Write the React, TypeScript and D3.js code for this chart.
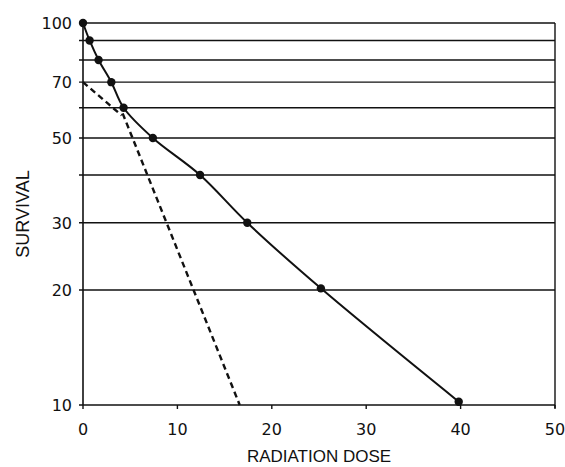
import { useEffect, useRef } from "react";
import * as d3 from "d3";

const doses = [0, 0.7, 1.65, 3.0, 4.3, 7.4, 12.4, 17.4, 25.2, 39.8];
const survival = [100, 90, 80, 70, 60, 50, 40, 30, 20.2, 10.2];
const shoulderLine = [{ x: 0, y: 70 }, { x: 4.1, y: 57.3 }];
const steepLine = [{ x: 4.2, y: 58 }, { x: 16.6, y: 10 }];
const gridValues = [100, 90, 80, 70, 60, 50, 40, 30, 20, 10];
const yTickLabels = [100, 70, 50, 30, 20, 10];
const xTicks = [0, 10, 20, 30, 40, 50];

export default function App() {
  const ref = useRef<SVGSVGElement>(null);

  useEffect(() => {
    const svg = d3.select(ref.current);
    svg.selectAll("*").remove();

    const left = 83, right = 555, top = 23, bottom = 405;
    const x = d3.scaleLinear().domain([0, 50]).range([left, right]);
    const y = d3.scaleLog().domain([10, 100]).range([bottom, top]);
    const tickFont = "DejaVu Sans, Verdana, sans-serif";
    const titleFont = "Liberation Sans, Arial, sans-serif";

    // gridlines
    svg.append("g")
      .selectAll("line")
      .data(gridValues)
      .join("line")
      .attr("x1", left - 4)
      .attr("x2", right)
      .attr("y1", (d) => y(d))
      .attr("y2", (d) => y(d))
      .attr("stroke", "#111")
      .attr("stroke-width", 1.4);

    // frame sides
    svg.append("line").attr("x1", left).attr("x2", left).attr("y1", top).attr("y2", bottom)
      .attr("stroke", "#111").attr("stroke-width", 1.6);
    svg.append("line").attr("x1", right).attr("x2", right).attr("y1", top).attr("y2", bottom + 3)
      .attr("stroke", "#111").attr("stroke-width", 1.4);

    // x ticks
    svg.append("g")
      .selectAll("line")
      .data(xTicks)
      .join("line")
      .attr("x1", (d) => x(d))
      .attr("x2", (d) => x(d))
      .attr("y1", bottom)
      .attr("y2", bottom + 4)
      .attr("stroke", "#111")
      .attr("stroke-width", 1.4);

    svg.append("g")
      .selectAll("text")
      .data(xTicks)
      .join("text")
      .attr("x", (d) => x(d))
      .attr("y", 435)
      .attr("text-anchor", "middle")
      .attr("font-family", tickFont)
      .attr("font-size", 16)
      .attr("fill", "#111")
      .text((d) => d);

    svg.append("g")
      .selectAll("text")
      .data(yTickLabels)
      .join("text")
      .attr("x", left - 11)
      .attr("y", (d) => y(d) + 6)
      .attr("text-anchor", "end")
      .attr("font-family", tickFont)
      .attr("font-size", 16)
      .attr("fill", "#111")
      .text((d) => d);

    svg.append("text")
      .attr("x", (left + right) / 2)
      .attr("y", 462)
      .attr("text-anchor", "middle")
      .attr("font-family", titleFont)
      .attr("font-size", 17)
      .attr("fill", "#111")
      .text("RADIATION DOSE");

    svg.append("text")
      .attr("transform", `translate(29, ${(top + bottom) / 2}) rotate(-90)`)
      .attr("text-anchor", "middle")
      .attr("font-family", titleFont)
      .attr("font-size", 18)
      .attr("fill", "#111")
      .text("SURVIVAL");

    // dashed extrapolations
    const dashLine = d3.line<{ x: number; y: number }>()
      .x((d) => x(d.x))
      .y((d) => y(d.y));
    [shoulderLine, steepLine].forEach((seg) => {
      svg.append("path")
        .attr("d", dashLine(seg))
        .attr("fill", "none")
        .attr("stroke", "#111")
        .attr("stroke-width", 2.4)
        .attr("stroke-dasharray", "6,4");
    });

    // survival curve
    const pts = doses.map((d, i) => [d, survival[i]] as [number, number]);
    svg.append("path")
      .attr("d", d3.line<[number, number]>()
        .x((d) => x(d[0]))
        .y((d) => y(d[1]))
        .curve(d3.curveCatmullRom.alpha(0.5))(pts))
      .attr("fill", "none")
      .attr("stroke", "#111")
      .attr("stroke-width", 2);

    svg.append("g")
      .selectAll("circle")
      .data(pts)
      .join("circle")
      .attr("cx", (d) => x(d[0]))
      .attr("cy", (d) => y(d[1]))
      .attr("r", 4.2)
      .attr("fill", "#111");
  }, []);

  return (
    <svg
      ref={ref}
      width={565}
      height={467}
      style={{ position: "absolute", left: 0, top: 0, background: "#fff" }}
    />
  );
}
